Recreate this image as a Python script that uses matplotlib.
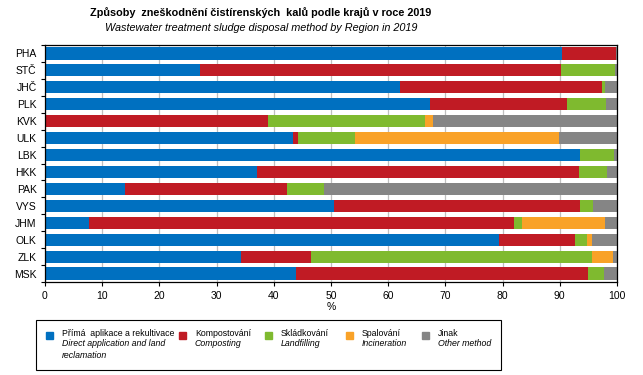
import numpy as np
import matplotlib.pyplot as plt
from matplotlib.patches import Rectangle

plt.rcParams['font.family'] = ['Liberation Sans', 'DejaVu Sans']

# ==========================================
# DATA (share of sludge by disposal method, %)
# ==========================================
regions = ["PHA", "STČ", "JHČ", "PLK", "KVK", "ULK", "LBK",
           "HKK", "PAK", "VYS", "JHM", "OLK", "ZLK", "MSK"]

direct   = [90.3, 27.1, 62.1, 67.3,  0.0, 43.4, 93.5, 37.1, 14.0, 50.5,  7.7, 79.4, 34.3, 43.9]
compost  = [ 9.6, 63.1, 35.3, 24.0, 39.0,  0.8,  0.0, 56.3, 28.3, 43.0, 74.3, 13.3, 12.2, 51.0]
landfill = [ 0.0,  9.5,  0.5,  6.8, 27.4, 10.0,  6.0,  4.9,  6.5,  2.3,  1.4,  2.1, 49.1,  2.8]
incin    = [ 0.0,  0.0,  0.0,  0.0,  1.4, 35.7,  0.0,  0.0,  0.0,  0.0, 14.5,  0.8,  3.7,  0.0]
other    = [ 0.1,  0.3,  2.1,  1.9, 32.2, 10.1,  0.5,  1.7, 51.2,  4.2,  2.1,  4.4,  0.7,  2.3]

series = [direct, compost, landfill, incin, other]
colors = ["#0070C0", "#C01B24", "#7FBA2F", "#F9A228", "#858585"]
labels_cz = ["Přímá  aplikace a rekultivace", "Kompostování", "Skládkování", "Spalování", "Jinak"]
labels_en = ["Direct application and land\nreclamation", "Composting", "Landfilling",
             "Incineration", "Other method"]

# ==========================================
# PLOT
# ==========================================
fig = plt.figure(figsize=(6.43, 3.75), dpi=100)
ax = fig.add_axes([45 / 643, 1 - 282 / 375, 572 / 643, 237 / 375])

y = np.arange(len(regions))
left = np.zeros(len(regions))
for vals, col in zip(series, colors):
    vals = np.array(vals)
    ax.barh(y, vals, left=left, height=0.72, color=col, zorder=2)
    left += vals

ax.set_xlim(0, 100)
ax.set_ylim(len(regions) - 0.5, -0.5)
ax.set_xticks(np.arange(0, 101, 10))
ax.set_yticks(y)
ax.set_yticklabels(regions, fontsize=7.5)
ax.tick_params(axis='y', length=0, pad=6)
ax.set_yticks(np.arange(-0.5, len(regions), 1), minor=True)
ax.tick_params(axis='y', which='minor', length=3, width=0.8)
ax.tick_params(axis='x', labelsize=7.5, length=3, width=0.8)
ax.grid(axis='x', color='#BFBFBF', linewidth=0.9, zorder=0)
for sp in ax.spines.values():
    sp.set_linewidth(0.9)
ax.set_xlabel("%", fontsize=7.5, labelpad=1)

fig.text(261 / 643, 1 - 13 / 375, "Způsoby  zneškodnění čistírenských  kalů podle krajů v roce 2019",
         ha='center', va='center', fontsize=7.8, fontweight='bold')
fig.text(261 / 643, 1 - 28 / 375, "Wastewater treatment sludge disposal method by Region in 2019",
         ha='center', va='center', fontsize=7.8, style='italic')

# legend box drawn by hand (two-language labels)
fig.patches.append(Rectangle((36 / 643, 1 - 370 / 375), 465 / 643, 50 / 375,
                             transform=fig.transFigure, fill=False,
                             edgecolor='black', linewidth=0.8))
marker_x = [49, 182, 268, 349, 425]
for mx, col, cz, en in zip(marker_x, colors, labels_cz, labels_en):
    fig.patches.append(Rectangle(((mx - 3) / 643, 1 - 339 / 375), 7 / 643, 7 / 375,
                                 transform=fig.transFigure, color=col))
    fig.text((mx + 13) / 643, 1 - 333 / 375, cz, ha='left', va='center', fontsize=6.3)
    fig.text((mx + 13) / 643, 1 - 339 / 375, en, ha='left', va='top', fontsize=6.3,
             style='italic', linespacing=1.5)

fig.savefig("out.png", dpi=100)
